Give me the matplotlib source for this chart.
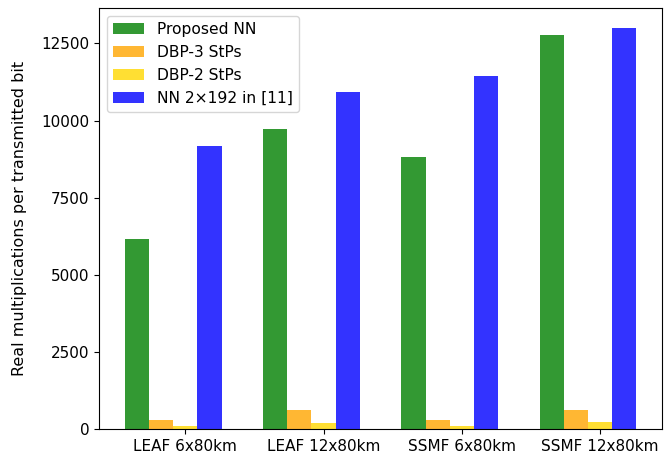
import numpy as np
import matplotlib
matplotlib.use("Agg")
import matplotlib.pyplot as plt

# cenarios de transmissao e complexidade (mult. reais por bit)
cenarios = ["LEAF 6x80km", "LEAF 12x80km", "SSMF 6x80km", "SSMF 12x80km"]
nn_proposta = [6160, 9740, 8830, 12760]
dbp_3 = [310, 610, 310, 615]
dbp_2 = [105, 210, 105, 225]
nn_ref = [9160, 10940, 11460, 12990]
marcas_y = [0, 2500, 5000, 7500, 10000, 12500]

x = np.arange(len(cenarios))
w = 0.175

fig, ax = plt.subplots(figsize=(6.66, 4.58), dpi=100)
ax.bar(x - 2 * w, nn_proposta, w, color='green', alpha=0.8, label='Proposed NN')
ax.bar(x - w, dbp_3, w, color='orange', alpha=0.8, label='DBP-3 StPs')
ax.bar(x, dbp_2, w, color='gold', alpha=0.8, label='DBP-2 StPs')
ax.bar(x + w, nn_ref, w, color='blue', alpha=0.8, label='NN 2\u00d7192 in [11]')

ax.set_xticks(x)
ax.set_xticklabels(cenarios)
ax.set_yticks(marcas_y)
ax.tick_params(labelsize=11)
ax.set_ylabel('Real multiplications per transmitted bit', fontsize=11.5, labelpad=10)
ax.legend(loc='upper left', fontsize=11.2)

plt.subplots_adjust(left=0.149, right=0.994, bottom=0.063, top=0.982)
plt.savefig('out.png', dpi=100)
